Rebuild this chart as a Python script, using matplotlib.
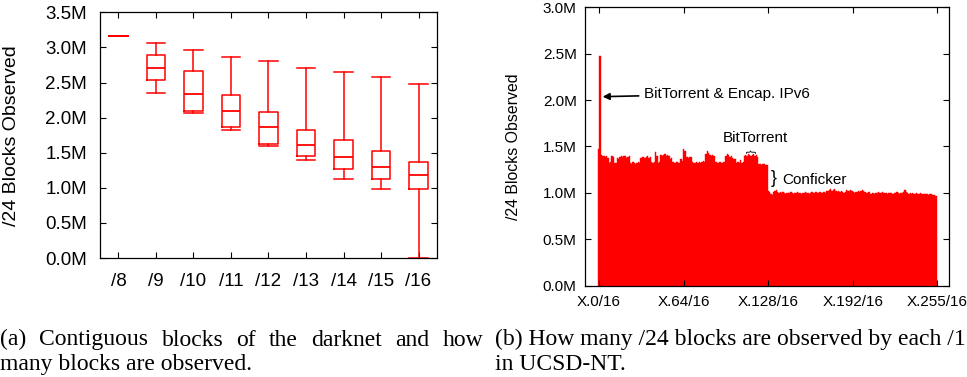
import matplotlib
matplotlib.use('Agg')
import matplotlib.pyplot as plt
from matplotlib.ticker import FuncFormatter

plt.rcParams['font.family'] = ['Liberation Sans', 'DejaVu Sans']

# Left panel: box plot of /24 blocks observed per contiguous block size (values in millions)
prefixes = ['/8', '/9', '/10', '/11', '/12', '/13', '/14', '/15', '/16']
whisker_low = [3.158, 2.35, 2.07, 1.83, 1.60, 1.39, 1.12, 0.98, 0.0]
box_low = [3.158, 2.53, 2.09, 1.86, 1.63, 1.45, 1.27, 1.125, 0.99]
median = [3.158, 2.71, 2.33, 2.10, 1.87, 1.605, 1.443, 1.30, 1.178]
box_high = [3.158, 2.89, 2.66, 2.32, 2.08, 1.83, 1.686, 1.53, 1.372]
whisker_high = [3.158, 3.07, 2.97, 2.87, 2.80, 2.71, 2.645, 2.574, 2.474]

# Right panel: /24 blocks observed for each X.n/16 (millions)
observed_low_half = [
    1.47, 2.48, 1.41, 1.40, 1.40, 1.39, 1.40, 1.38, 1.32, 1.33, 1.40, 1.39, 1.32, 1.32, 1.38, 1.37,
    1.39, 1.40, 1.39, 1.40, 1.40, 1.38, 1.39, 1.40, 1.32, 1.31, 1.33, 1.32, 1.31, 1.32, 1.33, 1.32,
    1.38, 1.39, 1.39, 1.38, 1.39, 1.40, 1.38, 1.39, 1.33, 1.32, 1.33, 1.44, 1.40, 1.32, 1.33, 1.41,
    1.40, 1.41, 1.42, 1.40, 1.41, 1.40, 1.37, 1.38, 1.33, 1.32, 1.32, 1.33, 1.32, 1.32, 1.36, 1.34,
    1.47, 1.45, 1.39, 1.39, 1.38, 1.39, 1.39, 1.33, 1.32, 1.32, 1.33, 1.32, 1.33, 1.32, 1.33, 1.34,
    1.33, 1.42, 1.45, 1.43, 1.41, 1.40, 1.41, 1.40, 1.33, 1.33, 1.32, 1.33, 1.33, 1.32, 1.33, 1.33,
    1.40, 1.42, 1.41, 1.39, 1.40, 1.38, 1.37, 1.36, 1.32, 1.33, 1.32, 1.35, 1.32, 1.33, 1.40, 1.41,
    1.40, 1.42, 1.41, 1.40, 1.41, 1.42, 1.40, 1.41, 1.39, 1.31, 1.31, 1.30, 1.31, 1.31, 1.30, 1.30,
]
observed_high_half = [
    1.02, 1.01, 0.99, 0.98, 1.01, 1.02, 1.03, 1.01, 1.00, 1.01, 1.00, 1.01, 1.00, 0.99, 1.00, 1.00,
    1.00, 1.01, 1.00, 0.99, 1.00, 1.00, 1.01, 1.00, 1.00, 0.99, 1.00, 1.00, 1.01, 1.00, 1.00, 0.99,
    1.00, 1.01, 1.00, 1.00, 1.01, 1.00, 1.00, 1.01, 1.00, 1.00, 1.01, 1.00, 1.02, 1.02, 1.03, 1.04,
    1.02, 1.03, 1.04, 1.02, 1.01, 1.02, 1.01, 1.02, 1.01, 1.00, 1.01, 1.03, 1.02, 1.02, 1.03, 1.02,
    1.01, 1.00, 1.01, 1.01, 1.02, 1.01, 1.02, 1.03, 1.02, 1.01, 1.00, 1.00, 1.01, 0.99, 0.99, 1.00,
    0.99, 1.00, 1.00, 1.01, 1.00, 1.00, 1.01, 1.00, 1.00, 1.00, 0.99, 1.00, 1.00, 1.00, 0.99, 1.00,
    1.00, 1.01, 1.00, 0.99, 1.00, 1.00, 1.01, 1.03, 1.01, 1.00, 0.99, 1.00, 0.99, 1.00, 0.99, 0.99,
    1.00, 0.99, 0.99, 1.00, 0.99, 0.99, 0.99, 0.99, 0.99, 0.98, 0.99, 0.99, 0.98, 0.98, 0.97, 0.97,
]
observed = observed_low_half + observed_high_half
subnets = list(range(len(observed)))
subnet_ticks = [0, 64, 128, 192, 255]
subnet_labels = ['X.0/16', 'X.64/16', 'X.128/16', 'X.192/16', 'X.255/16']

caption_a = ['(a) Contiguous blocks of the darknet and how', 'many blocks are observed.']
caption_b = ['(b) How many /24 blocks are observed by each /1', 'in UCSD-NT.']

RED = '#ff0000'
CAP_SIZE = 17
mfmt = FuncFormatter(lambda v, p: f'{v:.1f}M')

fig = plt.figure(figsize=(9.67, 3.77), dpi=100)

# ---- left panel
ax1 = fig.add_axes([0.1031, 0.3156, 0.3491, 0.6517])
stats = []
for i in range(len(prefixes)):
    stats.append({'whislo': whisker_low[i], 'q1': box_low[i], 'med': median[i],
                  'q3': box_high[i], 'whishi': whisker_high[i], 'fliers': []})
pos = list(range(1, len(prefixes) + 1))
ax1.bxp(stats, positions=pos, widths=0.5, capwidths=0.5, showfliers=False,
        boxprops=dict(color=RED, linewidth=1.1),
        whiskerprops=dict(color=RED, linewidth=1.1),
        capprops=dict(color=RED, linewidth=1.1),
        medianprops=dict(color=RED, linewidth=1.3))
ax1.set_xlim(0.5, 9.5)
ax1.set_ylim(0, 3.5)
ax1.set_xticks(pos)
ax1.set_xticklabels(prefixes)
ax1.set_yticks([0, 0.5, 1.0, 1.5, 2.0, 2.5, 3.0, 3.5])
ax1.yaxis.set_major_formatter(mfmt)
ax1.tick_params(axis='y', direction='in', length=4, width=0.8, labelsize=13.5, pad=9,
                right=True)
ax1.tick_params(axis='x', direction='in', length=4, width=0.8, labelsize=13.5, pad=11,
                top=True)
ax1.set_ylabel('/24 Blocks Observed', fontsize=14)
ax1.yaxis.set_label_coords(-0.236, 0.5)

# ---- right panel
ax2 = fig.add_axes([0.605, 0.2423, 0.3764, 0.7383])
ax2.bar(subnets, observed, width=1.0, color=RED, edgecolor=RED, linewidth=0.3)
ax2.set_xlim(-10.3, 264.3)
ax2.set_ylim(0, 3.0)
ax2.set_xticks(subnet_ticks)
ax2.set_xticklabels(subnet_labels)
ax2.set_yticks([0, 0.5, 1.0, 1.5, 2.0, 2.5, 3.0])
ax2.yaxis.set_major_formatter(mfmt)
ax2.tick_params(axis='y', direction='in', length=4, width=0.8, labelsize=11, pad=6,
                right=True)
ax2.tick_params(axis='x', direction='in', length=4, width=0.8, labelsize=11, pad=7,
                top=True)
ax2.set_ylabel('/24 Blocks Observed', fontsize=11.4)
ax2.yaxis.set_label_coords(-0.177, 0.5)

ax2.annotate('BitTorrent & Encap. IPv6', xy=(3.0, 2.037), xytext=(34.4, 2.066),
             fontsize=11, va='center', ha='left',
             arrowprops=dict(arrowstyle='-|>', color='black', lw=1.2,
                             mutation_scale=10, shrinkA=2, shrinkB=0))
ax2.text(118, 1.589, 'BitTorrent', fontsize=11, ha='center', va='center')
ax2.text(115.3, 1.45, '}', fontsize=8, rotation=90, ha='center', va='center')
ax2.text(131.8, 1.15, '}', fontsize=13, ha='center', va='center')
ax2.text(138.8, 1.139, 'Conficker', fontsize=11, ha='left', va='center')

for ax in (ax1, ax2):
    for s in ax.spines.values():
        s.set_linewidth(0.9)


# ---- captions
def justified(words, x0, x1, y):
    W = fig.bbox.width
    texts = [fig.text(x0 / W, y, w, fontsize=CAP_SIZE, family='Liberation Serif',
                      va='baseline', ha='left') for w in words]
    r = fig.canvas.get_renderer()
    widths = [t.get_window_extent(r).width for t in texts]
    gap = (x1 - x0 - sum(widths)) / (len(words) - 1)
    x = x0
    for t, w in zip(texts, widths):
        t.set_x(x / W)
        x += w + gap


justified(caption_a[0].split(' '), 0, 483, 1 - 345.5 / 377)
fig.text(0, 1 - 370 / 377, caption_a[1], fontsize=CAP_SIZE, family='Liberation Serif',
         va='baseline', ha='left')
fig.text(495 / 967, 1 - 345.5 / 377, caption_b[0], fontsize=CAP_SIZE, family='Liberation Serif',
         va='baseline', ha='left')
fig.text(495 / 967, 1 - 370 / 377, caption_b[1], fontsize=CAP_SIZE, family='Liberation Serif',
         va='baseline', ha='left')

fig.savefig('out.png', dpi=100)
